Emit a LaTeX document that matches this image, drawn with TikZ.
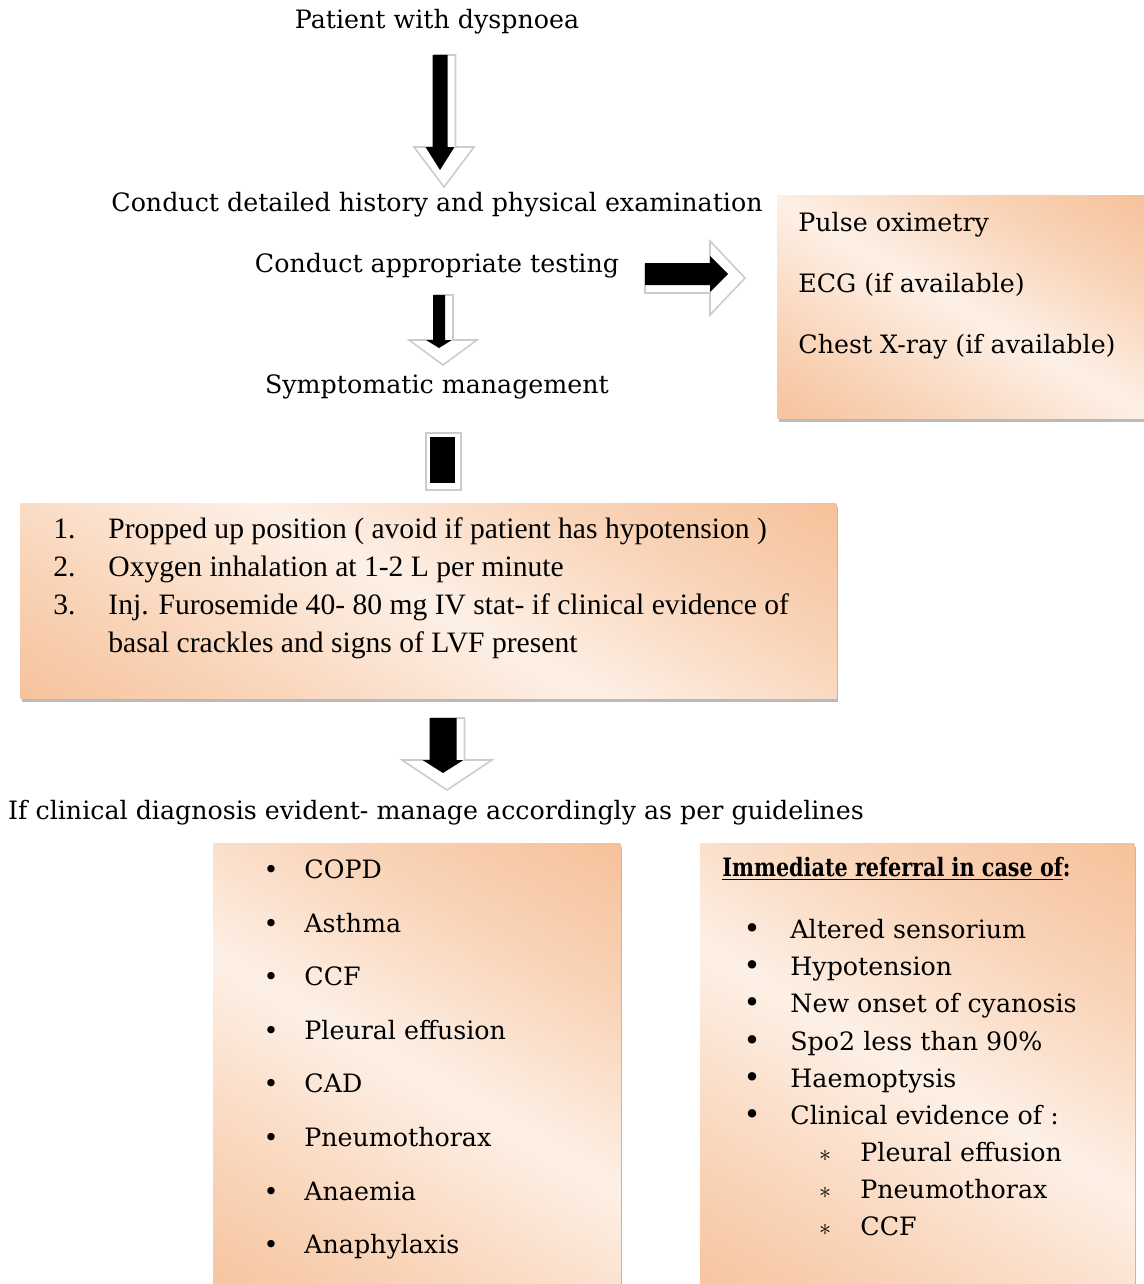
\documentclass[tikz,border=0pt]{standalone}
\usepackage{fontspec}
\setmainfont{DejaVu Serif}
\newfontfamily\narrowfont{Liberation Serif}
\usetikzlibrary{positioning, shadows, calc}

\definecolor{pch}{RGB}{243,176,126}
\definecolor{pchm}{RGB}{249,212,184}
\definecolor{pchl}{RGB}{253,240,230}
\pgfdeclarehorizontalshading{peachsh}{100bp}{color(0bp)=(pch); color(30bp)=(pchm); color(50bp)=(pchl); color(68bp)=(pchm); color(100bp)=(pch)}

\begin{document}
\begin{tikzpicture}[x=0.5pt, y=-0.5pt,
    every node/.style={font=\fontsize{12.65}{15}\selectfont, inner sep=0pt, text height=9pt, text depth=2.6pt},
    box/.style={anchor=north west, shading=peachsh, shading angle=60,
      drop shadow={shadow xshift=1pt, shadow yshift=-2pt, opacity=0.45, fill=black!60}},
    it/.style={anchor=west},
    nb/.style={anchor=west, font=\narrowfont\fontsize{14.8}{17}\selectfont, text height=10.5pt, text depth=3pt},
    pics/blk/.style n args={4}{code={
      \filldraw[fill=white, draw=gray!40, line width=0.8pt] (-#2+2,0) -- (-#2+2,#1-#4) -- (-#3+4,#1-#4) -- (4,#1)
        -- (#3+4,#1-#4) -- (#2+8,#1-#4) -- (#2+8,0) -- cycle;
      \fill[black] (-#2,0) -- (-#2,#1-#4) -- (-#2-7,#1-#4) -- (0,#1-17) -- (#2+7,#1-#4) -- (#2,#1-#4) -- (#2,0) -- cycle;
    }}
]
\useasboundingbox (0,0) rectangle (1144,1284);

% flow texts
\node (pat)  at (437,22)  {Patient with dyspnoea};
\node (hist) at (437,205) {Conduct detailed history and physical examination};
\node (test) at (437,266) {Conduct appropriate testing};
\node (symp) at (437,387) {Symptomatic management};
\node (dxl)  at (436,813) {If clinical diagnosis evident- manage accordingly as per guidelines};

% block arrows
\pic at (440,55)  {blk={132}{7.5}{30}{40}};
\pic at (439,295) {blk={70}{6}{34}{25}};
\pic at (443,718) {blk={72}{13.5}{45}{30}};
\pic[rotate=90, xscale=-1] at (645,274) {blk={100}{11}{37}{35}};
\filldraw[fill=white, draw=gray!40, line width=0.8pt] (426,433) rectangle (461,490);
\fill[black] (430,437) rectangle (455,483);

% testing box
\node[box, minimum width=184pt, minimum height=111.5pt] (tests) at (777,195) {};
\node[it] (po)  at (798,225) {Pulse oximetry};
\node[it] (ecg) at (798,286) {ECG (if available)};
\node[it] (cxr) at (798,347) {Chest X-ray (if available)};

% management box
\node[box, minimum width=408pt, minimum height=97.5pt] (mgmt) at (20,503) {};
\node[nb] (m1n) at (53,531) {1.};
\node[nb] (m1)  at (108,531) {Propped up position ( avoid if patient has hypotension )};
\node[nb] (m2n) at (53,569) {2.};
\node[nb] (m2)  at (108,569) {Oxygen inhalation at 1-2 L per minute};
\node[nb] (m3n) at (53,607) {3.};
\node[nb] (m3)  at (108,607) {Inj. Furosemide 40- 80 mg IV stat- if clinical evidence of};
\node[nb] (m4)  at (108,645) {basal crackles and signs of LVF present};

% diagnoses box
\node[box, minimum width=203.5pt, minimum height=230pt] (dx) at (213,843) {};
\foreach \t [count=\i] in {COPD, Asthma, CCF, Pleural effusion, CAD, Pneumothorax, Anaemia, Anaphylaxis} {
  \node (dxb\i) at (271,{872+53.6*(\i-1)}) {\textbullet};
  \node[it] (dx\i) at (304,{872+53.6*(\i-1)}) {\t};
}

% referral box
\node[box, minimum width=217pt, minimum height=230pt] (refer) at (700,843) {};
\node[it] (rt) at (722,870) {\scalebox{0.82}[1]{\textbf{\underline{Immediate referral in case of}:}}};
\foreach \t [count=\i] in {Altered sensorium, Hypotension, New onset of cyanosis, Spo2 less than 90\%, Haemoptysis, Clinical evidence of :} {
  \node (rb\i) at (752,{932+37.2*(\i-1)}) {\Large\textbullet};
  \node[it] (r\i) at (790,{932+37.2*(\i-1)}) {\t};
}
\foreach \t [count=\i] in {Pleural effusion, Pneumothorax, CCF} {
  \node (sb\i) at (825,{1155+37*(\i-1)}) {\large$\ast$};
  \node[it] (s\i) at (860,{1155+37*(\i-1)}) {\t};
}
\end{tikzpicture}
\end{document}
